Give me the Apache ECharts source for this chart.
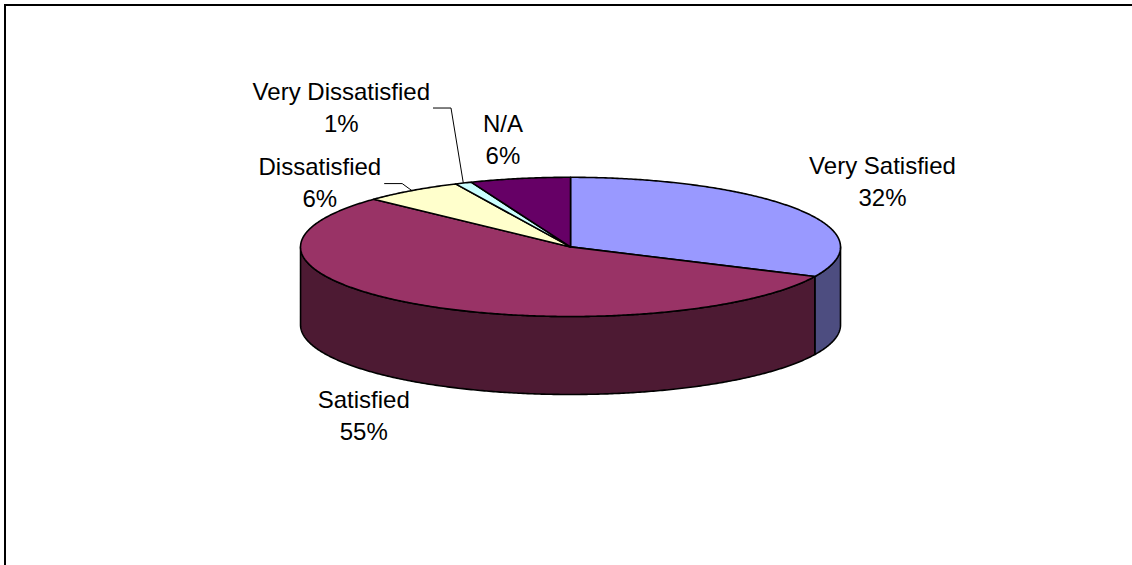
<!DOCTYPE html>
<html>
<head>
<meta charset="utf-8">
<script src="https://cdn.jsdelivr.net/npm/echarts@6/dist/echarts.min.js"></script>
<style>
html,body{margin:0;padding:0;background:#fff;}
#c{width:1132px;height:565px;}
</style>
</head>
<body>
<div id="c"></div>
<script>
// ---- data ----
const categories = ['Very Satisfied', 'Satisfied', 'Dissatisfied', 'Very Dissatisfied', 'N/A'];
const percentValues = [32, 55, 6, 1, 6];

// ---- styling / layout (kept apart from data) ----
const topColors = ['#9999FF', '#993366', '#FFFFCC', '#CCFFFF', '#660066'];
const sideColors = ['#4D4D80', '#4D1A33', '#808066', '#668080', '#330033'];
// offset of each label centre from its slice's rim anchor (px)
const labelOffsets = [[84, -28], [-55, 33], [-92, -8], [-122, -76], [-17, -39]];
const hasLeader = [false, false, true, true, false];
const FONT = "'Liberation Sans', Arial, sans-serif";
const FONT_SIZE = 24;
const LINE_H = 32;

const total = percentValues.reduce((a, b) => a + b, 0);
const starts = [];
let acc = 0;
percentValues.forEach(v => { starts.push(acc); acc += v; });

const measureCtx = document.createElement('canvas').getContext('2d');
measureCtx.font = FONT_SIZE + 'px ' + FONT;

function geometry(W, H) {
  return { cx: W * 0.504, cy: H * 0.437, rx: W * 0.2385, ry: H * 0.1232, depth: H * 0.138 };
}

function renderItem(params, api) {
  const i = params.dataIndex;
  const P = geometry(api.getWidth(), api.getHeight());
  const rim = (t, drop) => [P.cx + P.rx * Math.sin(t), P.cy - P.ry * Math.cos(t) + (drop || 0)];
  const arcPts = (a, b, drop) => {
    const n = Math.max(2, Math.ceil(Math.abs(b - a) / (Math.PI / 360)));
    const pts = [];
    for (let k = 0; k <= n; k++) pts.push(rim(a + (b - a) * k / n, drop));
    return pts;
  };
  const v = api.value(0);
  const t0 = starts[i] / total * 2 * Math.PI;
  const t1 = (starts[i] + v) / total * 2 * Math.PI;
  const children = [];
  const edge = { stroke: '#000', lineWidth: 1.6, lineJoin: 'round' };

  // visible front side
  const a = Math.max(t0, Math.PI / 2), b = Math.min(t1, 1.5 * Math.PI);
  if (a < b) {
    children.push({
      type: 'polygon', z2: 1,
      shape: { points: arcPts(a, b, 0).concat(arcPts(b, a, P.depth)) },
      style: Object.assign({ fill: sideColors[i] }, edge)
    });
  }
  // top face
  children.push({
    type: 'polygon', z2: 2,
    shape: { points: [[P.cx, P.cy]].concat(arcPts(t0, t1, 0)) },
    style: Object.assign({ fill: topColors[i] }, edge)
  });

  // label
  const mid = (t0 + t1) / 2;
  const anchor = rim(mid, Math.cos(mid) < 0 ? P.depth : 0);
  const lx = anchor[0] + labelOffsets[i][0];
  const ly = anchor[1] + labelOffsets[i][1];
  const name = api.value(1) !== undefined ? categories[i] : categories[i];
  const pct = Math.round(v / total * 100) + '%';
  children.push({
    type: 'text', z2: 3,
    x: lx, y: ly,
    style: {
      text: name + '\n' + pct,
      fill: '#000',
      font: FONT_SIZE + 'px ' + FONT,
      lineHeight: LINE_H,
      align: 'center',
      verticalAlign: 'middle'
    }
  });
  if (hasLeader[i]) {
    const w = measureCtx.measureText(name).width;
    const sx = lx + w / 2 + 3;
    const sy = ly + 1;
    children.push({
      type: 'polyline', z2: 3,
      shape: { points: [[sx, sy], [sx + 18, sy], anchor] },
      style: { stroke: '#000', lineWidth: 1, fill: 'none' }
    });
  }
  return { type: 'group', children: children };
}

const chart = echarts.init(document.getElementById('c'), null, { renderer: 'svg' });
chart.setOption({
  animation: false,
  backgroundColor: '#fff',
  graphic: [{
    type: 'rect', silent: true, z: -1,
    shape: { x: 5, y: 5, width: 1400, height: 800 },
    style: { fill: 'none', stroke: '#000', lineWidth: 2 }
  }],
  series: [{
    type: 'custom',
    coordinateSystem: 'none',
    silent: true,
    renderItem: renderItem,
    data: categories.map((c, i) => ({ name: c, value: [percentValues[i], i] }))
  }]
});
</script>
</body>
</html>
